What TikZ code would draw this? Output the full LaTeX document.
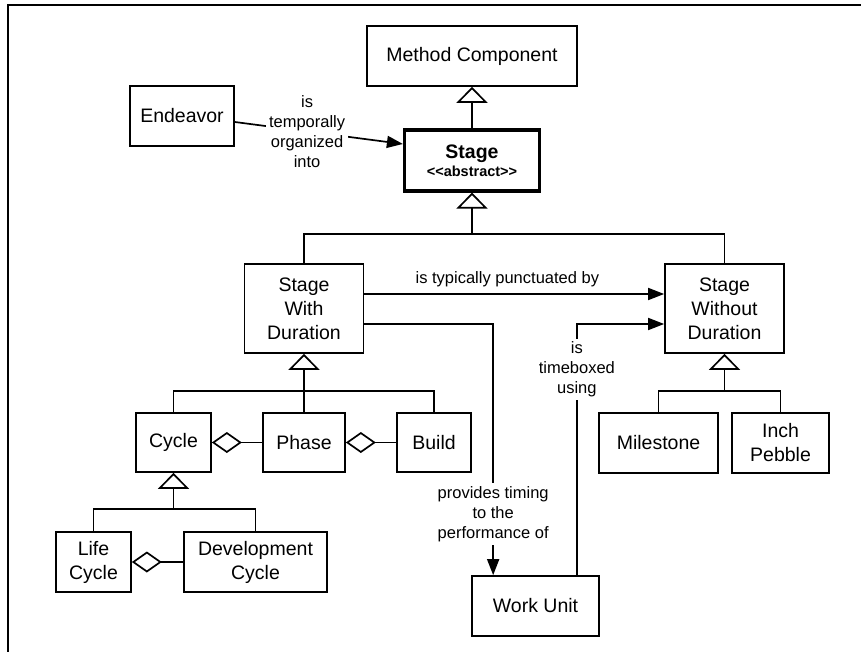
\documentclass[tikz,border=0pt]{standalone}
\usepackage{fontspec}
\setmainfont{Liberation Sans}
\usetikzlibrary{arrows.meta,calc}

\newcommand\boxfont{\fontsize{19.5}{24}\selectfont}
\newcommand\lblfont{\fontsize{16.5}{20}\selectfont}

\tikzset{
  box/.style={draw, line width=1.7pt, inner sep=0pt, align=center, font=\boxfont},
  conn/.style={draw, line width=1.7pt},
  gen/.style={conn, -{Triangle[width=31pt, length=16pt, fill=white]}},
  agg/.style={conn, {Diamond[width=21pt, length=30pt, fill=white]}-},
  assoc/.style={conn, -{Triangle[width=12pt, length=16pt]}},
  lbl/.style={fill=white, inner sep=3pt, align=center, font=\lblfont},
}

\begin{document}
\begin{tikzpicture}[x=1pt, y=-1pt]
\useasboundingbox (0,0) rectangle (861,652);

% outer frame
\draw[line width=1.7pt] (8,652) -- (8,5) -- (861,5);

% classes
\node[box, minimum width=210pt, minimum height=60pt] (mc) at (472,56) {Method Component};
\node[box, minimum width=104pt, minimum height=60pt] (endeavor) at (182,116) {Endeavor};
\node[box, line width=3.2pt, minimum width=135pt, minimum height=61pt] (stage) at (472,160.5)
  {\bfseries Stage\\[-6pt]{\fontsize{14.5}{18}\selectfont\bfseries <\kern0pt<abstract>\kern0pt>}};
\node[box, minimum width=119pt, minimum height=89pt] (swd) at (304,308.5) {Stage\\With\\Duration};
\node[box, minimum width=119pt, minimum height=89pt] (swod) at (724.5,308.5) {Stage\\Without\\Duration};
\node[box, minimum width=75pt, minimum height=59pt] (cycle) at (173.5,442.5) {Cycle};
\node[box, minimum width=82pt, minimum height=59pt] (phase) at (304,442.5) {Phase};
\node[box, minimum width=74pt, minimum height=59pt] (build) at (434,442.5) {Build};
\node[box, minimum width=75pt, minimum height=60pt] (lifecycle) at (93.5,562) {Life\\Cycle};
\node[box, minimum width=143pt, minimum height=60pt] (devcycle) at (255.5,562) {Development\\Cycle};
\node[box, minimum width=119pt, minimum height=60pt] (milestone) at (658.5,443) {Milestone};
\node[box, minimum width=97pt, minimum height=60pt] (inchpebble) at (780.5,443) {Inch\\Pebble};
\node[box, minimum width=127pt, minimum height=60pt] (workunit) at (535.5,606) {Work Unit};

% generalization trees
\draw[gen] (stage.north) -- (mc.south);

\coordinate (b1) at (472,234);
\draw[conn] (swd.north) |- (b1) -| (swod.north);
\draw[gen] (b1) -- (stage.south);

\coordinate (b2) at (304,391);
\draw[conn] (cycle.north) |- (b2) -| (build.north);
\draw[conn] (phase.north) -- (b2);
\draw[gen] (b2) -- (swd.south);

\coordinate (b3) at (173.5,509);
\draw[conn] (lifecycle.north) |- (b3) -| (devcycle.north);
\draw[gen] (b3) -- (cycle.south);

\coordinate (b4) at (724.5,391);
\draw[conn] (milestone.north) |- (b4) -| (inchpebble.north);
\draw[gen] (b4) -- (swod.south);

% aggregations
\draw[agg] (cycle.east) -- (phase.west);
\draw[agg] (phase.east) -- (build.west);
\draw[agg] (lifecycle.east) -- (devcycle.west);

% associations
\draw[assoc] ($(endeavor.east)+(0,6)$) -- node[lbl, pos=0.43] {is\\temporally\\organized\\into} ($(stage.west)+(0,-16.5)$);

\draw[assoc] ($(swd.east)+(0,-14.5)$) -- node[lbl, fill=none, above, inner sep=6pt, pos=0.477] {is typically punctuated by} ($(swod.west)+(0,-14.5)$);

\draw[assoc] ($(swd.east)+(0,15.5)$) -| node[lbl, pos=0.878] {provides timing\\to the\\performance of} ($(workunit.north west)+(22,0)$);

\draw[assoc] ($(workunit.north east)+(-23,0)$) |- node[lbl, pos=0.41] {is\\timeboxed\\using} ($(swod.west)+(0,15.5)$);
\end{tikzpicture}
\end{document}
